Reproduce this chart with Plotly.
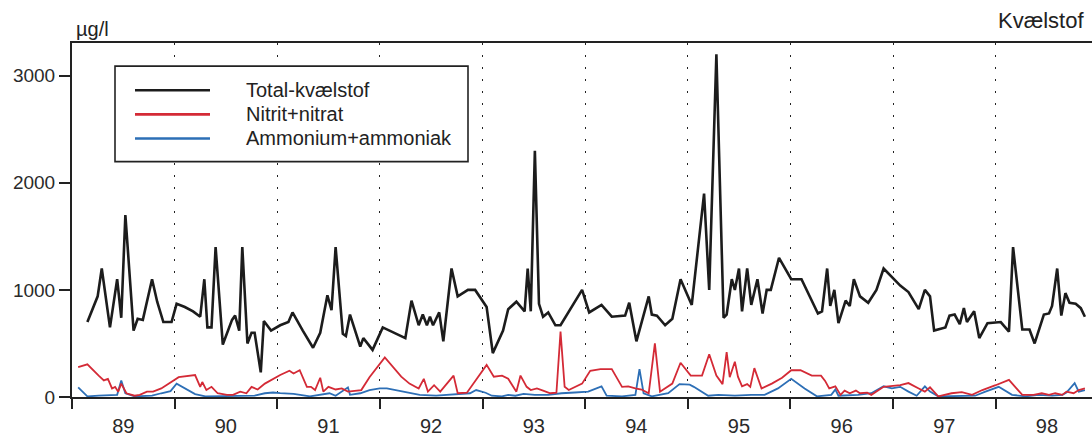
import pandas as pd
import plotly.graph_objects as go

# ---- Data (decimal year, µg/l) ----
total_t = [1989.15, 1989.25, 1989.29, 1989.37, 1989.44, 1989.48, 1989.52, 1989.60, 1989.64, 1989.69,
           1989.78, 1989.83, 1989.89, 1989.97, 1990.02, 1990.10, 1990.18, 1990.25, 1990.29, 1990.32,
           1990.36, 1990.40, 1990.47, 1990.56, 1990.59, 1990.63, 1990.66, 1990.71, 1990.75, 1990.78,
           1990.84, 1990.87, 1990.94, 1991.03, 1991.11, 1991.15, 1991.25, 1991.35, 1991.42, 1991.49,
           1991.53, 1991.57, 1991.64, 1991.67, 1991.71, 1991.81, 1991.84, 1991.93, 1992.03, 1992.25,
           1992.31, 1992.38, 1992.42, 1992.46, 1992.49, 1992.52, 1992.58, 1992.62, 1992.70, 1992.76,
           1992.86, 1992.93, 1993.04, 1993.10, 1993.20, 1993.25, 1993.33, 1993.41, 1993.44, 1993.47,
           1993.51, 1993.55, 1993.59, 1993.64, 1993.71, 1993.76, 1993.97, 1994.04, 1994.16, 1994.26,
           1994.39, 1994.43, 1994.50, 1994.62, 1994.65, 1994.70, 1994.78, 1994.85, 1994.93, 1995.04,
           1995.16, 1995.21, 1995.28, 1995.35, 1995.38, 1995.43, 1995.46, 1995.50, 1995.53, 1995.58,
           1995.62, 1995.68, 1995.73, 1995.77, 1995.81, 1995.89, 1996.01, 1996.11, 1996.27, 1996.31,
           1996.36, 1996.39, 1996.43, 1996.47, 1996.54, 1996.58, 1996.62, 1996.68, 1996.76, 1996.84,
           1996.91, 1997.07, 1997.15, 1997.25, 1997.31, 1997.36, 1997.40, 1997.51, 1997.55, 1997.60,
           1997.65, 1997.69, 1997.72, 1997.79, 1997.84, 1997.92, 1998.05, 1998.13, 1998.17, 1998.26,
           1998.33, 1998.38, 1998.47, 1998.52, 1998.55, 1998.60, 1998.64, 1998.68, 1998.72, 1998.78,
           1998.83, 1998.87]
total_v = [700, 940, 1200, 650, 1100, 740, 1700, 620, 730, 720,
           1100, 890, 700, 700, 870, 840, 800, 750, 1100, 650,
           650, 1400, 490, 720, 760, 620, 1400, 500, 600, 600,
           230, 710, 620, 670, 700, 790, 620, 460, 600, 950,
           810, 1400, 590, 570, 770, 470, 550, 440, 650, 550,
           900, 670, 770, 670, 750, 670, 790, 520, 1200, 940,
           1000, 1000, 840, 410, 620, 820, 890, 800, 1200, 800,
           2300, 870, 750, 790, 670, 670, 1000, 790, 860, 750,
           760, 880, 520, 940, 770, 760, 670, 730, 1100, 860,
           1900, 1000, 3200, 740, 770, 1100, 1000, 1200, 800, 1200,
           860, 1100, 780, 1000, 1000, 1300, 1100, 1100, 780, 800,
           1200, 850, 1000, 690, 900, 850, 1100, 940, 880, 1000,
           1200, 1040, 980, 820, 1000, 940, 620, 650, 760, 770,
           680, 830, 700, 800, 550, 690, 700, 610, 1400, 630,
           630, 500, 770, 780, 850, 1200, 760, 970, 880, 870,
           830, 750]

nitrat_t = [1989.06, 1989.15, 1989.26, 1989.31, 1989.35, 1989.39, 1989.42, 1989.45, 1989.48, 1989.53,
            1989.61, 1989.66, 1989.73, 1989.79, 1989.87, 1989.97, 1990.04, 1990.20, 1990.25, 1990.27,
            1990.31, 1990.36, 1990.42, 1990.51, 1990.57, 1990.64, 1990.70, 1990.75, 1990.81, 1990.88,
            1991.03, 1991.12, 1991.16, 1991.22, 1991.29, 1991.33, 1991.37, 1991.42, 1991.45, 1991.50,
            1991.57, 1991.63, 1991.69, 1991.82, 1991.90, 1992.05, 1992.21, 1992.29, 1992.38, 1992.43,
            1992.47, 1992.53, 1992.59, 1992.72, 1992.76, 1992.85, 1992.93, 1993.04, 1993.11, 1993.19,
            1993.25, 1993.33, 1993.37, 1993.43, 1993.47, 1993.53, 1993.59, 1993.66, 1993.72, 1993.76,
            1993.80, 1993.84, 1993.97, 1994.05, 1994.15, 1994.26, 1994.36, 1994.42, 1994.49, 1994.55,
            1994.62, 1994.68, 1994.73, 1994.80, 1994.85, 1994.93, 1995.03, 1995.14, 1995.21, 1995.28,
            1995.34, 1995.38, 1995.41, 1995.46, 1995.49, 1995.53, 1995.58, 1995.61, 1995.65, 1995.72,
            1995.82, 1995.92, 1996.01, 1996.10, 1996.21, 1996.30, 1996.34, 1996.38, 1996.44, 1996.49,
            1996.53, 1996.58, 1996.64, 1996.68, 1996.75, 1996.79, 1996.91, 1997.07, 1997.15, 1997.25,
            1997.31, 1997.36, 1997.44, 1997.57, 1997.67, 1997.77, 1997.87, 1998.00, 1998.13, 1998.26,
            1998.37, 1998.45, 1998.52, 1998.58, 1998.65, 1998.69, 1998.76, 1998.81, 1998.87]
nitrat_v = [280, 305, 200, 155, 170, 80, 95, 50, 125, 35,
            12, 20, 50, 50, 80, 140, 185, 205, 95, 140,
            65, 95, 35, 20, 20, 50, 35, 95, 70, 125,
            205, 245, 220, 250, 95, 95, 65, 180, 50, 95,
            70, 80, 50, 65, 185, 370, 190, 125, 80, 170,
            50, 110, 50, 200, 35, 40, 150, 300, 190, 200,
            170, 50, 200, 95, 65, 80, 60, 35, 40, 610,
            95, 65, 125, 245, 260, 260, 95, 100, 80, 70,
            35, 500, 50, 95, 125, 320, 200, 200, 400, 200,
            120, 420, 185, 330, 190, 100, 120, 95, 270, 80,
            125, 180, 250, 250, 200, 200, 150, 80, 100, 20,
            60, 35, 60, 35, 40, 20, 95, 110, 130, 80,
            50, 90, 6, 35, 45, 20, 65, 110, 160, 20,
            20, 35, 20, 35, 20, 50, 35, 65, 80]

ammon_t = [1989.06, 1989.15, 1989.26, 1989.39, 1989.44, 1989.48, 1989.52, 1989.61, 1989.78, 1989.87,
           1989.96, 1990.02, 1990.10, 1990.20, 1990.30, 1990.46, 1990.65, 1990.78, 1990.88, 1990.96,
           1991.03, 1991.16, 1991.32, 1991.51, 1991.57, 1991.69, 1991.71, 1991.81, 1991.90, 1992.00,
           1992.07, 1992.23, 1992.33, 1992.39, 1992.55, 1992.75, 1992.88, 1992.94, 1993.03, 1993.09,
           1993.19, 1993.25, 1993.32, 1993.40, 1993.51, 1993.64, 1993.77, 1993.90, 1994.03, 1994.16,
           1994.21, 1994.36, 1994.49, 1994.53, 1994.57, 1994.65, 1994.81, 1994.92, 1995.02, 1995.06,
           1995.20, 1995.30, 1995.46, 1995.62, 1995.75, 1995.88, 1996.01, 1996.14, 1996.26, 1996.40,
           1996.44, 1996.47, 1996.66, 1996.79, 1996.91, 1996.99, 1997.07, 1997.15, 1997.23, 1997.31,
           1997.36, 1997.44, 1997.61, 1997.80, 1997.90, 1998.03, 1998.16, 1998.29, 1998.42, 1998.55,
           1998.65, 1998.69, 1998.77, 1998.81, 1998.87]
ammon_v = [90, 6, 12, 20, 20, 155, 35, 6, 12, 35,
           55, 125, 80, 27, 6, 6, 12, 12, 35, 42,
           36, 30, 6, 35, 12, 90, 20, 35, 65, 80,
           80, 50, 35, 20, 12, 27, 35, 65, 40, 12,
           6, 20, 12, 30, 20, 20, 35, 42, 50, 100,
           12, 6, 20, 260, 35, 6, 35, 120, 115, 95,
           12, 20, 12, 20, 20, 80, 170, 80, 6, 20,
           70, 12, 20, 35, 100, 80, 95, 50, 12, 100,
           50, 6, 12, 12, 50, 95, 20, 6, 20, 12,
           20, 42, 130, 50, 65]

y_ticks = [0, 1000, 2000, 3000]
series_names = ["Total-kvælstof", "Nitrit+nitrat", "Ammonium+ammoniak"]
series_colors = ["#1c1c1c", "#d42a36", "#2d6fb6"]
series_widths = [2.6, 1.8, 1.8]


def to_dates(ts):
    out = []
    for t in ts:
        y = int(t)
        out.append(pd.Timestamp(year=y, month=1, day=1) + pd.Timedelta(days=(t - y) * 365.25))
    return out


FONT = "Liberation Sans, Arial, Helvetica, sans-serif"
fig = go.Figure()
for t, v, name, col, w in [(total_t, total_v, series_names[0], series_colors[0], series_widths[0]),
                           (nitrat_t, nitrat_v, series_names[1], series_colors[1], series_widths[1]),
                           (ammon_t, ammon_v, series_names[2], series_colors[2], series_widths[2])][::-1]:
    fig.add_trace(go.Scatter(x=to_dates(t), y=v, mode="lines", name=name,
                             line=dict(color=col, width=w), showlegend=False))

x_range = [pd.Timestamp("1989-01-01"), pd.Timestamp("1998-12-10")]

fig.update_layout(
    width=1092, height=437,
    margin=dict(l=72, r=0, t=43, b=27),
    paper_bgcolor="white", plot_bgcolor="white",
    font=dict(family=FONT, size=19, color="#2a2a2a"),
    showlegend=False,
    xaxis=dict(
        type="date", range=x_range,
        tickmode="linear", tick0="1989-01-01", dtick="M12",
        tickformat="%y", ticklabelmode="period",
        ticks="outside", ticklen=10, tickwidth=1.5, tickcolor="#222",
        showline=True, linecolor="#222", linewidth=2, mirror=True,
        showgrid=True, gridcolor="#222", gridwidth=1.3, griddash="2px,10px",
        zeroline=False, tickfont=dict(size=20),
    ),
    yaxis=dict(
        range=[0, 3306], tickvals=y_ticks,
        ticks="outside", ticklen=11, tickwidth=1.5, tickcolor="#222",
        showline=True, linecolor="#222", linewidth=2,
        showgrid=False, zeroline=False, tickfont=dict(size=19),
    ),
)


# manual legend (long line samples as in the original)
def px_x(p):
    return (p - 72) / 1020.0


def px_y(p):
    return (410 - p) / 367.0


fig.add_shape(type="rect", xref="paper", yref="paper",
              x0=px_x(115), x1=px_x(468), y0=px_y(166), y1=px_y(67),
              line=dict(color="#222", width=1.6), fillcolor="white", layer="above")
for i, (name, col) in enumerate(zip(series_names, series_colors)):
    yy = px_y(92 + 25 * i)
    fig.add_shape(type="line", xref="paper", yref="paper",
                  x0=px_x(135), x1=px_x(210), y0=yy, y1=yy,
                  line=dict(color=col, width=2.6), layer="above")
    fig.add_annotation(x=px_x(244), y=yy, xref="paper", yref="paper",
                       text=name, showarrow=False, xanchor="left", yanchor="middle",
                       font=dict(size=20, color="#222", family=FONT))

fig.add_annotation(x=px_x(74), y=1, xref="paper", yref="paper", text="µg/l",
                   showarrow=False, xanchor="left", yanchor="bottom", yshift=1,
                   font=dict(size=20, color="#222", family=FONT))
fig.add_annotation(x=px_x(1086), y=1, xref="paper", yref="paper", text="Kvælstof",
                   showarrow=False, xanchor="right", yanchor="bottom", yshift=8,
                   font=dict(size=22, color="#222", family=FONT))

fig.write_html("out.html")
